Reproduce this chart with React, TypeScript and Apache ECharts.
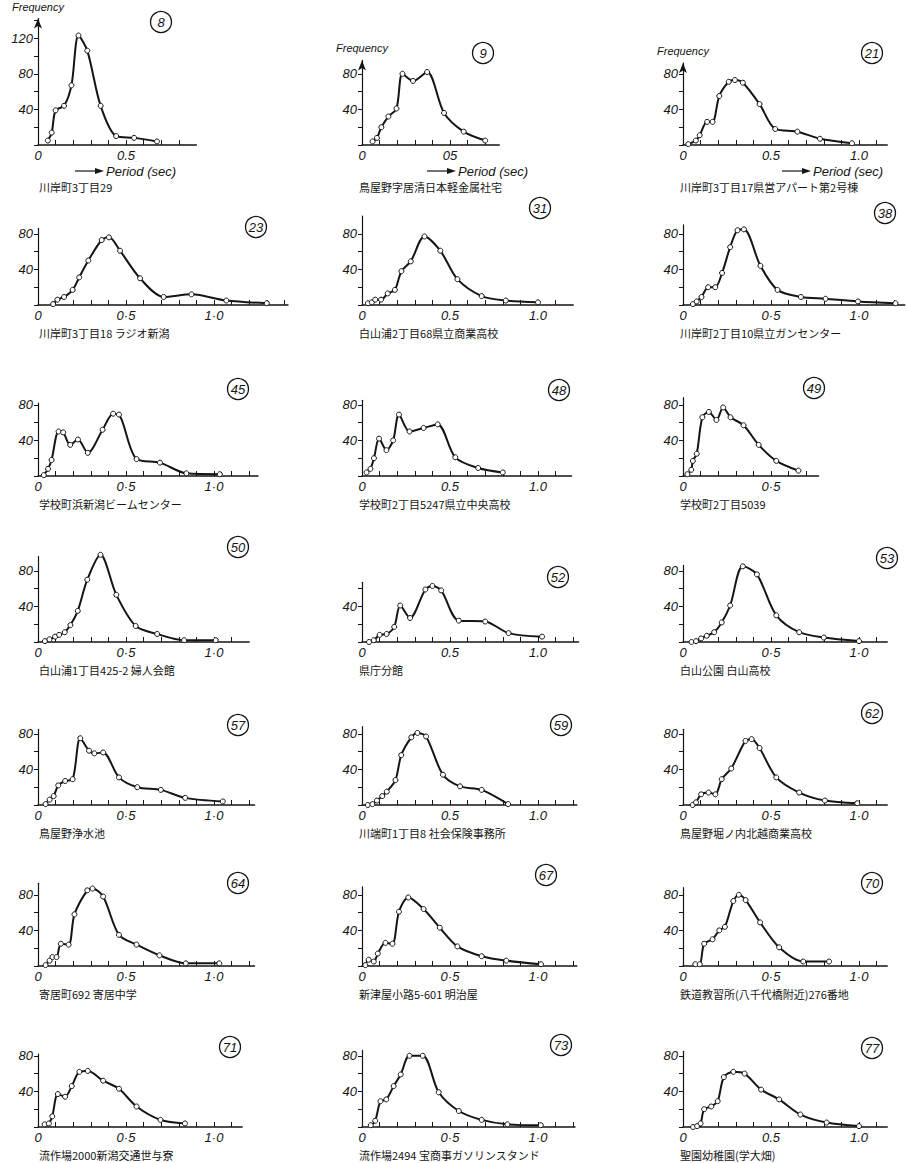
import React, { useEffect, useRef } from "react";
import * as echarts from "echarts";

// ---------- data ----------
const chartIds = [8, 9, 21, 23, 31, 38, 45, 48, 49, 50, 52, 53, 57, 59, 62, 64, 67, 70, 71, 73, 77];

const captions = [
  "川岸町3丁目29",
  "鳥屋野字居清日本軽金属社宅",
  "川岸町3丁目17県営アパート第2号棟",
  "川岸町3丁目18 ラジオ新潟",
  "白山浦2丁目68県立商業高校",
  "川岸町2丁目10県立ガンセンター",
  "学校町浜新潟ビームセンター",
  "学校町2丁目5247県立中央高校",
  "学校町2丁目5039",
  "白山浦1丁目425-2 婦人会館",
  "県庁分館",
  "白山公園 白山高校",
  "鳥屋野浄水池",
  "川端町1丁目8 社会保険事務所",
  "鳥屋野堀ノ内北越商業高校",
  "寄居町692 寄居中学",
  "新津屋小路5-601 明治屋",
  "鉄道教習所(八千代橋附近)276番地",
  "流作場2000新潟交通世与寮",
  "流作場2494 宝商事ガソリンスタンド",
  "聖園幼稚園(学大畑)",
];

// [period (sec), frequency]
const s8 = [[0.056, 5], [0.078, 14], [0.1, 39], [0.148, 44], [0.19, 67], [0.23, 123], [0.28, 106], [0.356, 44], [0.444, 10], [0.546, 8], [0.676, 4]];
const s9 = [[0.06, 4], [0.085, 8], [0.11, 20], [0.15, 32], [0.196, 41], [0.23, 80], [0.29, 72], [0.37, 82], [0.466, 36], [0.578, 15], [0.7, 5]];
const s21 = [[0.03, 1], [0.073, 5], [0.095, 11], [0.137, 26], [0.168, 26], [0.206, 55], [0.26, 71], [0.295, 73], [0.34, 70], [0.435, 46], [0.524, 18], [0.65, 15], [0.778, 7], [0.96, 2]];
const s23 = [[0.086, 1], [0.11, 6], [0.148, 9], [0.197, 17], [0.234, 31], [0.286, 50], [0.362, 73], [0.403, 76], [0.466, 61], [0.58, 30], [0.714, 9], [0.872, 12], [1.07, 5], [1.3, 2]];
const s31 = [[0.034, 2], [0.056, 3], [0.075, 6], [0.108, 6], [0.146, 13], [0.187, 17], [0.224, 38], [0.277, 49], [0.355, 77], [0.445, 61], [0.542, 29], [0.68, 10], [0.817, 5], [1.0, 3]];
const s38 = [[0.056, 1], [0.078, 4], [0.105, 9], [0.143, 20], [0.183, 20], [0.222, 36], [0.268, 65], [0.31, 84], [0.346, 85], [0.44, 44], [0.537, 17], [0.67, 9], [0.81, 7], [0.994, 4], [1.207, 2]];
const s45 = [[0.033, 1], [0.057, 8], [0.077, 18], [0.117, 50], [0.143, 49], [0.183, 35], [0.227, 41], [0.283, 26], [0.367, 52], [0.427, 70], [0.46, 69], [0.56, 19], [0.693, 15], [0.843, 3], [1.033, 2]];
const s48 = [[0.026, 4], [0.048, 8], [0.068, 20], [0.097, 42], [0.139, 29], [0.177, 40], [0.21, 69], [0.27, 50], [0.35, 54], [0.43, 58], [0.53, 21], [0.66, 9], [0.8, 4]];
const s49 = [[0.025, 2], [0.047, 7], [0.056, 17], [0.078, 25], [0.11, 66], [0.147, 72], [0.19, 63], [0.228, 77], [0.27, 66], [0.344, 57], [0.43, 35], [0.53, 17], [0.656, 6]];
const s50 = [[0.039, 1], [0.065, 3], [0.097, 6], [0.12, 8], [0.152, 11], [0.184, 19], [0.226, 35], [0.28, 70], [0.355, 98], [0.445, 53], [0.555, 18], [0.677, 9], [0.83, 2], [1.01, 2]];
const s52 = [[0.04, 0], [0.067, 2], [0.1, 8], [0.14, 9], [0.183, 17], [0.217, 41], [0.273, 27], [0.36, 59], [0.4, 63], [0.45, 58], [0.55, 24], [0.7, 23], [0.833, 10], [1.023, 6]];
const s53 = [[0.048, 0], [0.074, 1], [0.103, 4], [0.135, 7], [0.177, 11], [0.22, 22], [0.268, 41], [0.34, 85], [0.42, 76], [0.53, 30], [0.66, 11], [0.8, 5], [1.0, 1]];
const s57 = [[0.043, 1], [0.066, 6], [0.089, 10], [0.115, 22], [0.154, 27], [0.197, 29], [0.24, 75], [0.29, 61], [0.32, 58], [0.37, 59], [0.46, 31], [0.564, 20], [0.698, 17], [0.836, 8], [1.05, 4]];
const s59 = [[0.033, 0], [0.059, 1], [0.085, 5], [0.115, 10], [0.141, 15], [0.19, 28], [0.223, 56], [0.28, 76], [0.315, 81], [0.364, 77], [0.46, 34], [0.557, 21], [0.68, 17], [0.83, 1]];
const s62 = [[0.055, 0], [0.074, 3], [0.103, 12], [0.145, 14], [0.184, 12], [0.22, 29], [0.274, 41], [0.355, 72], [0.39, 74], [0.435, 64], [0.53, 31], [0.66, 14], [0.806, 5], [0.99, 2]];
const s64 = [[0.043, 1], [0.066, 6], [0.082, 10], [0.105, 10], [0.13, 25], [0.174, 24], [0.207, 58], [0.28, 85], [0.31, 87], [0.37, 78], [0.46, 35], [0.56, 24], [0.69, 12], [0.84, 3], [1.03, 3]];
const s67 = [[0.019, 1], [0.038, 7], [0.067, 5], [0.09, 14], [0.133, 26], [0.173, 25], [0.21, 61], [0.263, 77], [0.35, 64], [0.442, 43], [0.542, 22], [0.68, 11], [0.82, 6], [1.017, 2]];
const s70 = [[0.07, 2], [0.095, 2], [0.12, 25], [0.168, 30], [0.206, 40], [0.238, 44], [0.286, 73], [0.317, 80], [0.356, 74], [0.438, 49], [0.546, 21], [0.683, 5], [0.83, 5]];
const s71 = [[0.038, 3], [0.062, 4], [0.081, 12], [0.113, 37], [0.154, 34], [0.192, 46], [0.235, 62], [0.283, 63], [0.37, 52], [0.46, 43], [0.56, 23], [0.696, 8], [0.835, 4]];
const s73 = [[0.05, 2], [0.075, 7], [0.105, 29], [0.138, 31], [0.18, 46], [0.22, 59], [0.27, 80], [0.345, 80], [0.436, 39], [0.55, 18], [0.68, 8], [0.826, 3], [1.016, 2]];
const s77 = [[0.057, 0], [0.08, 1], [0.1, 4], [0.12, 20], [0.16, 23], [0.197, 29], [0.232, 56], [0.286, 62], [0.35, 60], [0.444, 42], [0.546, 31], [0.667, 14], [0.816, 5], [1.0, 1]];

const seriesData = [s8, s9, s21, s23, s31, s38, s45, s48, s49, s50, s52, s53, s57, s59, s62, s64, s67, s70, s71, s73, s77];

// axis ranges
const yMaxes = [142, 95, 92, 86, 100, 90, 82, 85, 88, 96, 67, 86, 85, 88, 85, 93, 89, 88, 82, 86, 85];
const xMaxes = [0.9, 0.78, 1.16, 1.42, 1.2, 1.26, 1.25, 1.19, 0.77, 1.2, 1.23, 1.16, 1.23, 1.22, 1.16, 1.23, 1.22, 1.16, 1.16, 1.21, 1.16];
// decimal mark used in the tick labels of each panel
const decimalMarks = [".", "", ".", "·", ".", "·", "·", ".", "·", "·", ".", "·", "·", ".", "·", "·", "·", "·", "·", "·", "."];

// ---------- layout ----------
const COL_X = [38, 362, 683];
const ROW_BASE = [145, 305, 476, 642, 805, 966, 1127];
const PX_PER_SEC = 176;
const PX_PER_FREQ = 0.89;
const BADGES = [
  [161, 22], [483, 53], [872, 53],
  [256, 227], [540, 208], [885, 213],
  [238, 389], [559, 390], [814, 388],
  [238, 547], [558, 577], [887, 558],
  [238, 725], [561, 725], [872, 713],
  [238, 883], [546, 875], [872, 883],
  [230, 1047], [561, 1045], [872, 1048],
];
const PERIOD_X = [75, 427, 782];

const INK = "#151515";
const NUM_FONT = "Liberation Sans";
const JP_FONT = "Noto Sans CJK JP";

export default function App() {
  const ref = useRef<HTMLDivElement>(null);

  useEffect(() => {
    const chart = echarts.init(ref.current!, null, { renderer: "svg" });
    const grid: any[] = [];
    const xAxis: any[] = [];
    const yAxis: any[] = [];
    const series: any[] = [];
    const graphic: any[] = [];

    chartIds.forEach((id, i) => {
      const row = Math.floor(i / 3);
      const col = i % 3;
      const x0 = COL_X[col];
      const base = ROW_BASE[row];
      const w = xMaxes[i] * PX_PER_SEC;
      const h = yMaxes[i] * PX_PER_FREQ;
      const topRow = row === 0;
      const sep = decimalMarks[i];

      grid.push({ left: x0, top: base - h, width: w, height: h });

      xAxis.push({
        gridIndex: i,
        type: "value",
        min: 0,
        max: xMaxes[i],
        interval: 0.1,
        axisLine: { show: true, onZero: false, lineStyle: { color: INK, width: 1.5 } },
        axisTick: { show: true, inside: true, length: 5, lineStyle: { color: INK, width: 1 } },
        splitLine: { show: false },
        axisLabel: {
          showMaxLabel: false,
          margin: 4,
          color: INK,
          fontSize: 13,
          fontStyle: "italic",
          fontFamily: NUM_FONT,
          formatter: (v: number) => {
            const k = Math.round(v * 10);
            if (k === 0) return "0";
            if (k === 5) return "0" + sep + "5";
            if (k === 10) return "1" + sep + "0";
            return "";
          },
        },
      });

      yAxis.push({
        gridIndex: i,
        type: "value",
        min: 0,
        max: yMaxes[i],
        interval: 20,
        axisLine: {
          show: true,
          onZero: false,
          symbol: topRow ? ["none", "arrow"] : ["none", "none"],
          symbolSize: [6, 10],
          lineStyle: { color: INK, width: 1.2 },
        },
        axisTick: { show: true, inside: false, length: 4, lineStyle: { color: INK, width: 1 } },
        splitLine: { show: false },
        axisLabel: {
          showMaxLabel: false,
          margin: 5,
          color: INK,
          fontSize: 13,
          fontStyle: "italic",
          fontFamily: NUM_FONT,
          formatter: (v: number) => (v > 0 && v % 40 === 0 ? String(v) : ""),
        },
      });

      series.push({
        type: "line",
        xAxisIndex: i,
        yAxisIndex: i,
        data: seriesData[i],
        smooth: 0.3,
        clip: false,
        symbol: "circle",
        symbolSize: 5,
        showSymbol: true,
        silent: true,
        lineStyle: { color: INK, width: 2 },
        itemStyle: { color: "#fff", borderColor: INK, borderWidth: 1 },
      });

      // numbered badge
      const [bx, by] = BADGES[i];
      graphic.push({
        type: "circle",
        shape: { cx: bx, cy: by, r: 10.5 },
        style: { fill: "none", stroke: INK, lineWidth: 1.3 },
        silent: true,
      });
      graphic.push({
        type: "text",
        x: bx,
        y: by,
        style: {
          text: String(id),
          fill: INK,
          font: `italic 13px "${NUM_FONT}"`,
          align: "center",
          verticalAlign: "middle",
        },
        silent: true,
      });

      // caption
      graphic.push({
        type: "text",
        x: x0 + (col === 0 ? 1 : -3),
        y: base + (topRow ? 42 : 28),
        style: {
          text: captions[i],
          fill: INK,
          font: `11px "${JP_FONT}"`,
          align: "left",
          verticalAlign: "middle",
        },
        silent: true,
      });

      if (topRow) {
        // Frequency label above the y-axis arrow
        graphic.push({
          type: "text",
          x: x0 - 26,
          y: base - h - 12,
          style: {
            text: "Frequency",
            fill: INK,
            font: `italic 11px "${NUM_FONT}"`,
            align: "left",
            verticalAlign: "middle",
          },
          silent: true,
        });
        // → Period (sec)
        const px = PERIOD_X[col];
        const py = base + 26;
        graphic.push({
          type: "line",
          shape: { x1: px, y1: py, x2: px + 22, y2: py },
          style: { stroke: INK, lineWidth: 1.2 },
          silent: true,
        });
        graphic.push({
          type: "polygon",
          shape: { points: [[px + 20, py - 3], [px + 29, py], [px + 20, py + 3]] },
          style: { fill: INK },
          silent: true,
        });
        graphic.push({
          type: "text",
          x: px + 31,
          y: py,
          style: {
            text: "Period (sec)",
            fill: INK,
            font: `italic 13px "${NUM_FONT}"`,
            align: "left",
            verticalAlign: "middle",
          },
          silent: true,
        });
      }
    });

    chart.setOption({
      animation: false,
      backgroundColor: "#ffffff",
      textStyle: { fontFamily: NUM_FONT },
      grid,
      xAxis,
      yAxis,
      series,
      graphic,
    });

    return () => chart.dispose();
  }, []);

  return (
    <div
      ref={ref}
      style={{ position: "absolute", left: 0, top: 0, width: 907, height: 1163 }}
    />
  );
}
